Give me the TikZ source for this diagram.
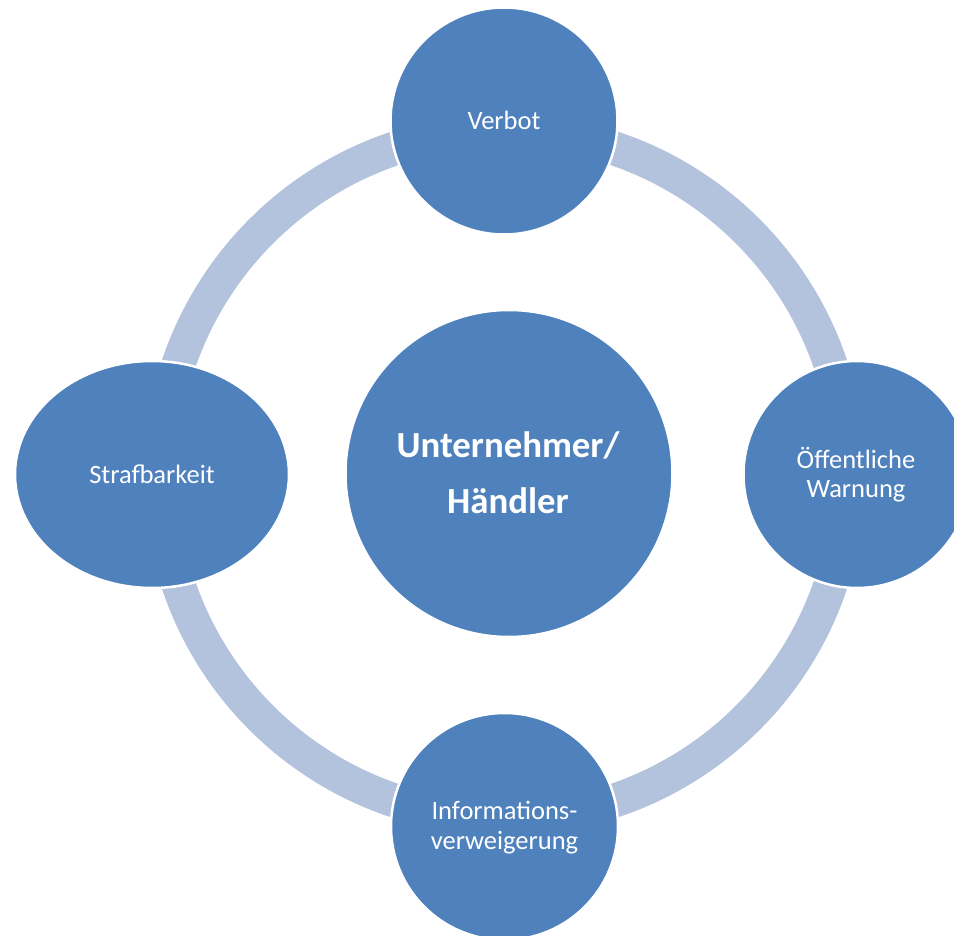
\documentclass[tikz,border=0pt]{standalone}
\usepackage{fontspec}
\setmainfont{Carlito}
\usetikzlibrary{shapes.geometric}
\definecolor{nodeblue}{HTML}{4F81BD}
\definecolor{ringblue}{HTML}{B3C2DD}
\begin{document}
\begin{tikzpicture}[x=1pt,y=-1pt,
  bubble/.style={circle, fill=nodeblue, draw=white, line width=2.5pt, inner sep=0pt, minimum size=#1},
  oval/.style={ellipse, fill=nodeblue, draw=white, line width=2.5pt, inner sep=0pt, minimum width=274pt, minimum height=227pt},
  lbl/.style={text=white, inner sep=0pt, anchor=base, font=\fontsize{26.5pt}{29pt}\selectfont},
  lblbig/.style={text=white, inner sep=0pt, anchor=base, font=\fontsize{36.8pt}{40pt}\selectfont\bfseries},
  ringstyle/.style={draw=ringblue, line width=34pt}]
\useasboundingbox (0,0) rectangle (954,936);
\coordinate (ringc) at (504.5,474.5);
\draw[ringstyle] (ringc) circle[radius=344];
\node[bubble=227pt] (verbot) at (504,121) {};
\node[oval] (straf) at (152,474.5) {};
\node[bubble=227pt] (warn) at (857,474.5) {};
\node[bubble=227pt] (info) at (504.5,826.5) {};
\node[bubble=327pt] (center) at (509,473.5) {};
\node[lbl] (tverbot) at (504,130) {Verbot};
\node[lbl] (tstraf) at (152,483) {Strafbarkeit};
\node[lbl] (twarn1) at (856,468) {Öffentliche};
\node[lbl] (twarn2) at (856,497) {Warnung};
\node[lbl] (tinfo1) at (504.5,819) {Informations-};
\node[lbl] (tinfo2) at (504.5,849) {verweigerung};
\node[lblbig] (tc1) at (508,457) {Unternehmer/};
\node[lblbig] (tc2) at (508,513) {Händler};
\end{tikzpicture}
\end{document}
